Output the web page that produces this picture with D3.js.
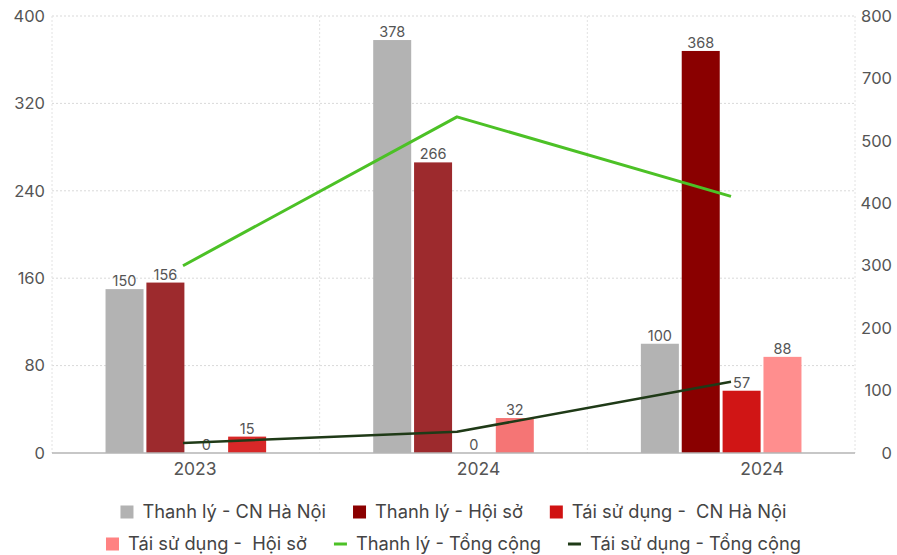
<!DOCTYPE html>
<html><head><meta charset="utf-8">
<script src="https://cdn.jsdelivr.net/npm/d3@7"></script>
<style>
html,body{margin:0;padding:0;background:#fff;}
svg text{font-family:Inter,"Noto Sans",sans-serif;white-space:pre;}
</style></head>
<body><svg id="c" width="897" height="555"></svg>
<script>
// ---- data ----
const categories = ["2023", "2024", "2024"];
const barSeries = ["Thanh lý - CN Hà Nội", "Thanh lý - Hội sở", "Tái sử dụng -  CN Hà Nội", "Tái sử dụng -  Hội sở"];
const thanhLyCN = [150, 378, 100];
const thanhLyHS = [156, 266, 368];
const taiSuDungCN = [0, 0, 57];
const taiSuDungHS = [15, 32, 88];
const lineSeries = ["Thanh lý - Tổng cộng", "Tái sử dụng - Tổng cộng"];
const thanhLyTong = [300, 577, 411];
const taiSuDungTong = [16, 34, 114];
const leftTicks = [0, 80, 160, 240, 320, 400];
const rightTicks = [0, 100, 200, 300, 400, 500, 700, 800];

// ---- styles ----
const legendColors = ["#b2b2b2", "#8b0000", "#d01212", "#ff8282"];
const barColors = [
  ["#b3b3b3", "#b3b3b3", "#b3b3b3"],
  ["#9d2a2d", "#9d2a2d", "#8a0000"],
  ["#d42626", "#d42626", "#d01515"],
  ["#d82828", "#f57575", "#ff8e8e"]
];
const lineColors = ["#4cc126", "#1f3a17"];

const m = {left: 52, right: 855, top: 16, bottom: 453};
const svg = d3.select("#c");

const barValues = [thanhLyCN, thanhLyHS, taiSuDungCN, taiSuDungHS];
const idx = categories.map((d, i) => i);

const x0 = d3.scaleBand().domain(idx).range([m.left, m.right]).paddingInner(0.4).paddingOuter(0.2);
const x1 = d3.scaleBand().domain(d3.range(barSeries.length)).range([0, x0.bandwidth()]).paddingInner(0.07);
const xGrid = d3.scaleBand().domain(idx).range([m.left, m.right]).padding(0);
const xLabel = d3.scalePoint().domain(idx).range([195, 762]);
const xLine = d3.scalePoint().domain(idx).range([183, 731]);
const yL = d3.scaleLinear().domain([0, 400]).range([m.bottom, m.top]);
const yR = d3.scaleLinear().domain(rightTicks)
  .range(rightTicks.map((d, i) => m.bottom - i * (m.bottom - m.top) / (rightTicks.length - 1)));

// gridlines
const grid = svg.append("g");
grid.selectAll("line.h").data(leftTicks.filter(d => d > 0)).join("line")
  .attr("x1", m.left).attr("x2", m.right)
  .attr("y1", d => yL(d)).attr("y2", d => yL(d))
  .attr("stroke", "#d9d9d9").attr("stroke-width", 1).attr("stroke-dasharray", "2,2");
const vx = idx.map(i => xGrid(i)).concat([m.right]);
grid.selectAll("line.v").data(vx).join("line")
  .attr("x1", d => d).attr("x2", d => d)
  .attr("y1", m.top).attr("y2", m.bottom)
  .attr("stroke", "#e2e2e2").attr("stroke-width", 1).attr("stroke-dasharray", "2,2");

// bars
const bars = svg.append("g");
barValues.forEach((vals, s) => {
  bars.selectAll(null).data(vals).join("rect")
    .attr("x", (d, i) => x0(i) + x1(s))
    .attr("width", x1.bandwidth())
    .attr("y", d => yL(d))
    .attr("height", d => yL(0) - yL(d))
    .attr("fill", (d, i) => barColors[s][i]);
});

// axis baseline
svg.append("line").attr("x1", m.left).attr("x2", m.right)
  .attr("y1", m.bottom).attr("y2", m.bottom)
  .attr("stroke", "#b5b5b5").attr("stroke-width", 1.5);

// value labels
const vl = svg.append("g");
barValues.forEach((vals, s) => {
  vl.selectAll(null).data(vals).join("text")
    .attr("x", (d, i) => x0(i) + x1(s) + x1.bandwidth() / 2)
    .attr("y", d => yL(d) - 3)
    .attr("text-anchor", "middle")
    .attr("font-size", 14.5).attr("fill", "#555")
    .text(d => d);
});

// lines
const lineVals = [thanhLyTong, taiSuDungTong];
lineVals.forEach((vals, k) => {
  const gen = d3.line().x((d, i) => xLine(i)).y(d => yR(d));
  svg.append("path").datum(vals).attr("d", gen)
    .attr("fill", "none").attr("stroke", lineColors[k])
    .attr("stroke-width", k === 0 ? 3 : 2.5).attr("stroke-linejoin", "round");
});

// axes labels
const axL = svg.append("g").attr("transform", `translate(${m.left},0)`)
  .call(d3.axisLeft(yL).tickValues(leftTicks).tickSize(0).tickPadding(7));
axL.select(".domain").remove();
axL.selectAll("text").attr("font-size", 16.5).attr("fill", "#555").attr("font-family", "Inter,'Noto Sans',sans-serif");

const axR = svg.append("g").attr("transform", `translate(${m.right},0)`)
  .call(d3.axisRight(yR).tickValues(rightTicks).tickSize(0).tickPadding(0).tickFormat(d => String(d)));
axR.select(".domain").remove();
axR.selectAll("text").attr("font-size", 16.5).attr("fill", "#555").attr("font-family", "Inter,'Noto Sans',sans-serif")
  .attr("text-anchor", "end").attr("x", 37);

svg.append("g").selectAll("text").data(idx).join("text")
  .attr("x", i => xLabel(i)).attr("y", 475)
  .attr("text-anchor", "middle").attr("font-size", 17.5).attr("fill", "#555")
  .text(i => categories[i]);

// legend
const items = barSeries.map((n, i) => ({name: n, color: legendColors[i], type: "rect"}))
  .concat(lineSeries.map((n, i) => ({name: n, color: lineColors[i], type: "line"})));
const rows = [items.slice(0, 3), items.slice(3)];
const rowY = [512, 544];
const cx = (m.left + m.right) / 2;
rows.forEach((row, r) => {
  const g = svg.append("g");
  const parts = row.map(it => {
    const ig = g.append("g");
    if (it.type === "rect") {
      ig.append("rect").attr("x", 0).attr("y", -6.5).attr("width", 13).attr("height", 13).attr("fill", it.color);
    } else {
      ig.append("rect").attr("x", 0).attr("y", -1.5).attr("width", 13).attr("height", 3).attr("fill", it.color);
    }
    const t = ig.append("text").attr("x", 22).attr("y", 0).attr("dy", "0.35em")
      .attr("font-size", 18.3).attr("fill", "#444").text(it.name);
    const w = 22 + t.node().getComputedTextLength();
    return {ig, w};
  });
  const gap = 27;
  const total = d3.sum(parts, p => p.w) + gap * (parts.length - 1);
  let x = cx - total / 2;
  parts.forEach(p => { p.ig.attr("transform", `translate(${x},${rowY[r]})`); x += p.w + gap; });
});
</script></body></html>
